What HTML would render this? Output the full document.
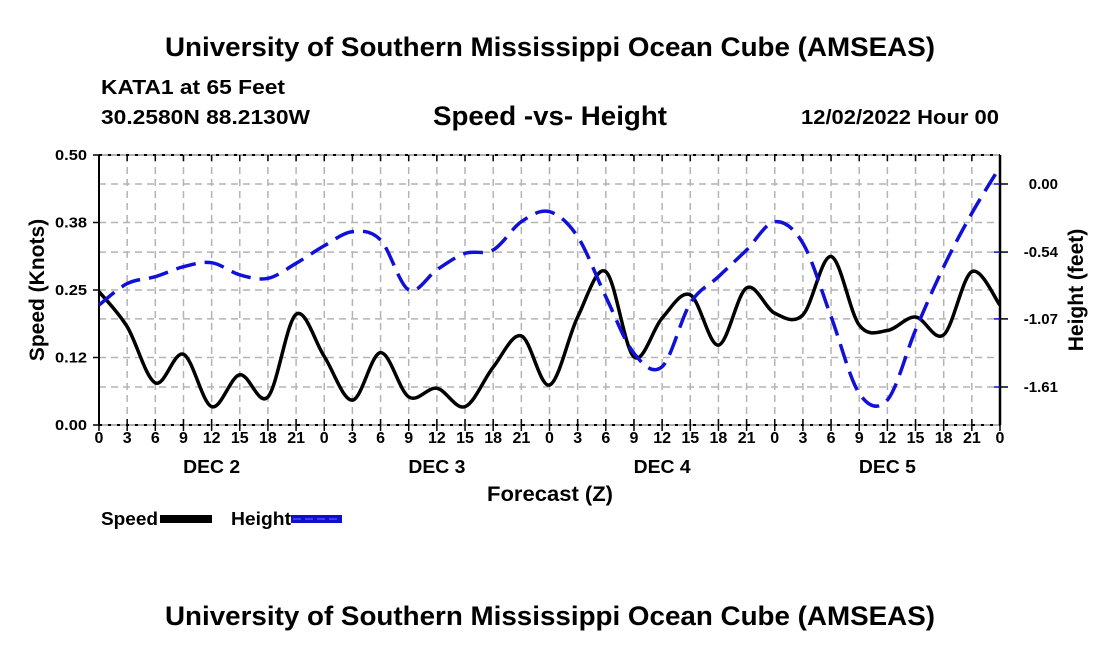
<!DOCTYPE html>
<html><head><meta charset="utf-8"><style>
body{margin:0;background:#fff;}
svg text{font-family:"Liberation Sans",sans-serif;font-weight:bold;fill:#000;}
</style></head><body>
<svg width="1100" height="650" xmlns="http://www.w3.org/2000/svg">
<text x="165" y="56" font-size="27" textLength="770" lengthAdjust="spacingAndGlyphs">University of Southern Mississippi Ocean Cube (AMSEAS)</text>
<text x="101" y="94" font-size="20" textLength="184" lengthAdjust="spacingAndGlyphs">KATA1 at 65 Feet</text>
<text x="101" y="124" font-size="20" textLength="209" lengthAdjust="spacingAndGlyphs">30.2580N  88.2130W</text>
<text x="433" y="125" font-size="27" textLength="234" lengthAdjust="spacingAndGlyphs">Speed -vs- Height</text>
<text x="801" y="124" font-size="20" textLength="198" lengthAdjust="spacingAndGlyphs">12/02/2022 Hour 00</text>
<g id="grid"></g>
<g id="axes"></g>
<g id="series"></g>
<text x="487" y="501" font-size="21" textLength="126" lengthAdjust="spacingAndGlyphs">Forecast (Z)</text>
<text transform="translate(44,290) rotate(-90)" font-size="21" text-anchor="middle">Speed (Knots)</text>
<text transform="translate(1083,290) rotate(-90)" font-size="21" text-anchor="middle">Height (feet)</text>
<g>
<text x="101" y="525" font-size="18" textLength="57" lengthAdjust="spacingAndGlyphs">Speed</text>
<rect x="160" y="515" width="52" height="8" fill="#000"/>
<text x="231" y="525" font-size="18" textLength="60" lengthAdjust="spacingAndGlyphs">Height</text>
<rect x="291" y="515" width="51" height="8" fill="#1010c8"/>
<line x1="293" y1="519" x2="340" y2="519" stroke="#3a3aff" stroke-width="2" stroke-dasharray="8,4"/>
</g>
<text x="165" y="625" font-size="27" textLength="770" lengthAdjust="spacingAndGlyphs">University of Southern Mississippi Ocean Cube (AMSEAS)</text>
</svg>
<script>
const hours = [0,3,6,9,12,15,18,21,24,27,30,33,36,39,42,45,48,51,54,57,60,63,66,69,72,75,78,81,84,87,90,93,96];
const speed = [0.247,0.182,0.078,0.131,0.034,0.093,0.052,0.205,0.127,0.046,0.134,0.052,0.068,0.034,0.107,0.165,0.074,0.2,0.284,0.126,0.198,0.241,0.148,0.254,0.207,0.204,0.312,0.185,0.175,0.2,0.167,0.284,0.222];
const height = [-0.96,-0.79,-0.735,-0.656,-0.624,-0.72,-0.748,-0.629,-0.49,-0.378,-0.444,-0.84,-0.68,-0.55,-0.523,-0.299,-0.22,-0.418,-0.894,-1.343,-1.449,-0.946,-0.735,-0.523,-0.299,-0.47,-1.052,-1.66,-1.713,-1.158,-0.656,-0.232,0.137];
const speedTicks = [0,0.125,0.25,0.375,0.5];
const speedTickLabels = ["0.00","0.12","0.25","0.38","0.50"];
const heightTicks = [0,-0.54,-1.07,-1.61];
const heightTickLabels = ["0.00","-0.54","-1.07","-1.61"];
const xTickLabels = ["0","3","6","9","12","15","18","21"];
const dayLabels = ["DEC 2","DEC 3","DEC 4","DEC 5"];

const L=99,R=1000,T=155,B=425;
const X=h=>L+(R-L)*h/96;
const YS=v=>B-(B-T)*v/0.5;
function heightY(f){return 184-f*(203/1.61);}
const NS="http://www.w3.org/2000/svg";
function mk(tag,attrs,parent){const e=document.createElementNS(NS,tag);for(const k in attrs)e.setAttribute(k,attrs[k]);parent.appendChild(e);return e;}
const grid=document.getElementById('grid'),axes=document.getElementById('axes'),series=document.getElementById('series');
for(let h=3;h<96;h+=3){const l=mk('line',{x1:X(h),x2:X(h),y1:T,y2:B,stroke:'#b4b4b4','stroke-width':1.5,'stroke-dasharray':'7,5'},grid);

}
speedTicks.slice(1,4).forEach(v=>{const l=mk('line',{x1:L,x2:R,y1:YS(v),y2:YS(v),stroke:'#b4b4b4','stroke-width':1.5,'stroke-dasharray':'7,5'},grid);

});
heightTicks.forEach(f=>{const l=mk('line',{x1:L,x2:R,y1:heightY(f),y2:heightY(f),stroke:'#b4b4b4','stroke-width':1.5,'stroke-dasharray':'7,5'},grid);

});
[T,B].forEach(y=>{mk('line',{x1:L,x2:R,y1:y,y2:y,stroke:'#999','stroke-width':1.5},axes);
mk('line',{x1:L,x2:R,y1:y,y2:y,stroke:'#000','stroke-width':2,'stroke-dasharray':'3,6'},axes);});
mk('line',{x1:L,x2:L,y1:T,y2:B,stroke:'#000','stroke-width':2},axes);
mk('line',{x1:R,x2:R,y1:T,y2:B,stroke:'#000','stroke-width':2.5},axes);
speedTicks.forEach((v,i)=>{mk('line',{x1:L-6,x2:L,y1:YS(v),y2:YS(v),stroke:'#000','stroke-width':1.5},axes);
const t=mk('text',{x:L-12,y:YS(v)+5,'font-size':15,'text-anchor':'end',textLength:32,lengthAdjust:'spacingAndGlyphs'},axes);t.textContent=speedTickLabels[i];

});
heightTicks.forEach((f,i)=>{mk('line',{x1:R,x2:R+8,y1:heightY(f),y2:heightY(f),stroke:'#000','stroke-width':1.5},axes);
mk('line',{x1:R-6,x2:R,y1:heightY(f),y2:heightY(f),stroke:'#1010c8','stroke-width':1.5},axes);
const t=mk('text',{x:R+58,y:heightY(f)+5,'font-size':15,'text-anchor':'end'},axes);t.textContent=heightTickLabels[i];

});
for(let h=0;h<=96;h+=3){mk('line',{x1:X(h),x2:X(h),y1:B-6,y2:B+6,stroke:'#000','stroke-width':1.5},axes);
mk('line',{x1:X(h),x2:X(h),y1:T,y2:T+6,stroke:'#000','stroke-width':1.5},axes);
const t=mk('text',{x:X(h),y:B+18,'font-size':16,'text-anchor':'middle'},axes);t.textContent=xTickLabels[(h%24)/3];

}
dayLabels.forEach((d,i)=>{const t=mk('text',{x:X(12+24*i),y:B+48,'font-size':18,'text-anchor':'middle',textLength:57,lengthAdjust:'spacingAndGlyphs'},axes);t.textContent=d;

});
function path(pts){let d=`M${pts[0][0]},${pts[0][1]}`;
for(let i=0;i<pts.length-1;i++){const p0=pts[i-1]||pts[i],p1=pts[i],p2=pts[i+1],p3=pts[i+2]||p2;
d+=` C${p1[0]+(p2[0]-p0[0])/6},${p1[1]+(p2[1]-p0[1])/6} ${p2[0]-(p3[0]-p1[0])/6},${p2[1]-(p3[1]-p1[1])/6} ${p2[0]},${p2[1]}`;}return d;}
const sp=mk('path',{d:path(hours.map((h,i)=>[X(h),YS(speed[i])])),fill:'none',stroke:'#000','stroke-width':3.5},series);


const hp=mk('path',{d:path(hours.map((h,i)=>[X(h),heightY(height[i])])),fill:'none',stroke:'#1010d8','stroke-width':3.5,'stroke-dasharray':'20,9'},series);


</script>
</body></html>
